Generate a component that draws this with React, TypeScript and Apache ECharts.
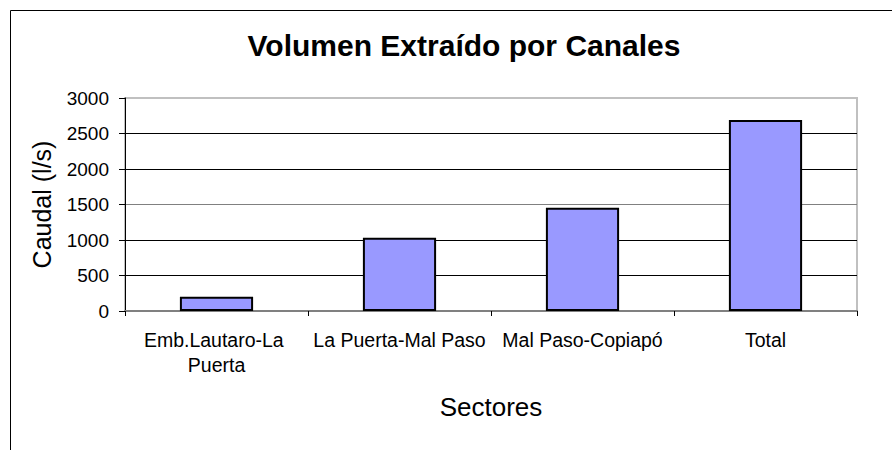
import React, { useEffect, useRef } from "react";
import * as echarts from "echarts";

const categories = ["Emb.Lautaro-La Puerta", "La Puerta-Mal Paso", "Mal Paso-Copiapó", "Total"];
const caudal = [200, 1030, 1455, 2690];
const yTicks = [0, 500, 1000, 1500, 2000, 2500, 3000];

const FONT = "'Liberation Sans', Arial, sans-serif";

export default function App() {
  const ref = useRef<HTMLDivElement>(null);
  useEffect(() => {
    document.body.style.margin = "0";
    const chart = echarts.init(ref.current!, null, { renderer: "svg" });
    chart.setOption({
      animation: false,
      backgroundColor: "#ffffff",
      title: {
        text: "Volumen Extraído por Canales",
        left: 459,
        top: 25,
        textAlign: "center",
        textStyle: { fontFamily: FONT, fontSize: 30, fontWeight: "bold", color: "#000" },
      },
      grid: {
        left: 125,
        right: 35,
        top: 98,
        bottom: 139,
        show: true,
        borderColor: "#c0c0c0",
        borderWidth: 2,
        backgroundColor: "transparent",
      },
      xAxis: {
        type: "category",
        data: categories,
        name: "Sectores",
        nameLocation: "middle",
        nameGap: 83,
        nameTextStyle: { fontFamily: FONT, fontSize: 26, color: "#000" },
        axisLine: { lineStyle: { color: "#808080", width: 2 } },
        axisTick: { show: true, alignWithLabel: false, length: 5, lineStyle: { color: "#000" } },
        axisLabel: {
          fontFamily: FONT,
          fontSize: 19.5,
          color: "#000",
          margin: 16,
          width: 178,
          overflow: "break",
          lineHeight: 25,
          interval: 0,
        },
      },
      yAxis: {
        type: "value",
        min: yTicks[0],
        max: yTicks[yTicks.length - 1],
        interval: 500,
        name: "Caudal (l/s)",
        nameLocation: "middle",
        nameGap: 71,
        nameTextStyle: { fontFamily: FONT, fontSize: 25, color: "#000" },
        axisLine: { show: true, lineStyle: { color: "#000", width: 1 } },
        axisTick: { show: true, length: 6, lineStyle: { color: "#000" } },
        axisLabel: {
          fontFamily: FONT,
          fontSize: 19,
          color: "#000",
          margin: 16,
          formatter: (v: number) => String(v),
        },
        splitLine: {
          show: true,
          lineStyle: {
            color: ["#808080", "#000", "#000", "#808080", "#000", "#000", "#c0c0c0"],
            width: 1,
          },
        },
      },
      series: [
        {
          type: "bar",
          data: caudal,
          barWidth: "40%",
          itemStyle: { color: "#9999ff", borderColor: "#000", borderWidth: 2 },
        },
      ],
      graphic: [
        { type: "line", shape: { x1: 10.5, y1: 10.5, x2: 892, y2: 10.5 }, style: { stroke: "#000", lineWidth: 1 } },
        { type: "line", shape: { x1: 10.5, y1: 10.5, x2: 10.5, y2: 450 }, style: { stroke: "#000", lineWidth: 1 } },
      ],
    });
    return () => chart.dispose();
  }, []);
  return <div ref={ref} style={{ width: 892, height: 450 }} />;
}
